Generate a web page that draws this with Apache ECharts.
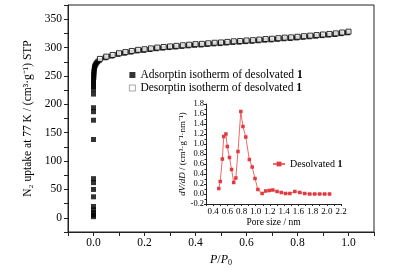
<!DOCTYPE html>
<html>
<head>
<meta charset="utf-8">
<script src="https://cdn.jsdelivr.net/npm/echarts@6/dist/echarts.min.js"></script>
<style>html,body{margin:0;padding:0;background:#fff;}#c{width:399px;height:272px;}</style>
</head>
<body>
<div id="c"></div>
<script>
// Adsorption isotherm (filled squares)
const adsX = [0.0,0.0,0.0,0.0,0.0,0.0,0.0,0.0,0.0,0.0,0.0,0.0,0.0,0.0,0.0,0.0,0.0,0.0,0.0,0.001,0.001,0.001,0.002,0.002,0.003,0.004,0.005,0.007,0.009,0.012,0.016,
  0.022,0.046,0.071,0.096,0.121,0.146,0.171,0.196,0.221,0.246,0.271,0.296,0.321,0.346,0.371,0.396,0.421,0.446,0.471,0.496,0.521,0.546,0.571,0.596,0.621,0.646,0.671,0.696,0.721,0.746,0.771,0.796,0.821,0.846,0.871,0.896,0.921,0.946,0.971,0.996];
const adsY = [2,5,9,14,20,37,50,62,69,138,172,187,194,218,226,231,235,239,243,247,250,253,256,259,262,265,267,269,271,273,275,
  277,282,285,288,290,292,294,295,296.5,298,299,300,301,302,303,304,304.5,305.5,306.5,307,308,309,309.5,310.5,311,312,313,313.5,314.5,315.5,316,317,318,319,320,321,322,323,324.5,326];
// Desorption isotherm (open squares)
const desX = [0.025,0.05,0.075,0.1,0.125,0.15,0.175,0.2,0.225,0.25,0.275,0.3,0.325,0.35,0.375,0.4,0.425,0.45,0.475,0.5,0.525,0.55,0.575,0.6,0.625,0.65,0.675,0.7,0.725,0.75,0.775,0.8,0.825,0.85,0.875,0.9,0.925,0.95,0.975,1.0];
const desY = [280,284,287,290,292,294,296,297,298.5,300,301,302,303,304,305,306,306.5,307.5,308.5,309,310,311,311.5,312.5,313,314,315,315.5,316.5,317.5,318,319,320,321,322,323,324,325,326.5,328];
// Pore size distribution (inset)
const poreX = [0.48,0.50,0.53,0.55,0.58,0.60,0.63,0.66,0.69,0.72,0.75,0.79,0.82,0.86,0.91,0.95,0.99,1.03,1.09,1.14,1.19,1.24,1.30,1.36,1.42,1.48,1.55,1.62,1.69,1.76,1.83,1.90,1.97,2.04];
const poreY = [0.11,0.25,0.70,1.15,1.20,0.95,0.73,0.49,0.23,0.32,0.85,1.65,1.35,1.14,0.69,0.54,0.31,0.09,0.01,0.06,0.07,0.08,0.05,0.03,0.01,0.01,0.05,0.03,0.01,0.0,0.0,0.0,0.0,0.0];
// Tick labels
const mainXLabels = [0.0,0.2,0.4,0.6,0.8,1.0];
const mainYLabels = [0,50,100,150,200,250,300,350];
const insetXLabels = [0.4,0.6,0.8,1.0,1.2,1.4,1.6,1.8,2.0,2.2];
const insetYLabels = [-0.2,0.0,0.2,0.4,0.6,0.8,1.0,1.2,1.4,1.6,1.8];

const FONT = 'Liberation Serif';
const zip = (a, b) => a.map((v, i) => [v, b[i]]);
const has = (list, v, tol) => list.some(t => Math.abs(t - v) < tol);

const chart = echarts.init(document.getElementById('c'), null, {renderer: 'canvas'});
chart.setOption({
  backgroundColor: '#fff',
  animation: false,
  textStyle: {fontFamily: FONT, color: '#000'},
  grid: [
    {left: 68, right: 25, top: 5, bottom: 40, show: true, borderColor: '#222', borderWidth: 1},
    {left: 206, right: 58, top: 104, bottom: 68, show: false}
  ],
  legend: [
    {
      left: 124, top: 64, orient: 'vertical', itemGap: 1, itemWidth: 6, itemHeight: 6,
      data: [
        {name: 'ads', icon: 'rect', itemStyle: {color: '#000', borderWidth: 0}},
        {name: 'des', icon: 'rect', itemStyle: {color: '#fff', borderColor: '#777', borderWidth: 0.8}}
      ],
      formatter: n => n === 'ads' ? '{a|Adsorptin isotherm of desolvated }{b|1}' : '{a|Desorptin isotherm of desolvated }{b|1}',
      textStyle: {fontFamily: FONT, fontSize: 11.5, color: '#000',
        rich: {a: {fontFamily: FONT, fontSize: 11.5, color: '#000'}, b: {fontFamily: FONT, fontSize: 11.5, fontWeight: 'bold', color: '#000'}}}
    },
    {
      left: 267, top: 154, itemWidth: 12, itemHeight: 6, itemGap: 3,
      data: [{name: 'pore'}],
      formatter: () => '{a|Desolvated }{b|1}',
      textStyle: {fontFamily: FONT, fontSize: 10, color: '#000',
        rich: {a: {fontFamily: FONT, fontSize: 10, color: '#000'}, b: {fontFamily: FONT, fontSize: 10, fontWeight: 'bold', color: '#000'}}}
    }
  ],
  xAxis: [
    {
      gridIndex: 0, type: 'value', min: -0.1, max: 1.1, interval: 0.1,
      axisLine: {onZero: false, lineStyle: {color: '#222', width: 1}},
      axisTick: {length: 4, lineStyle: {color: '#222'}},
      splitLine: {show: false},
      axisLabel: {fontFamily: FONT, fontSize: 11.5, color: '#000', margin: 5,
        formatter: v => has(mainXLabels, v, 1e-6) ? v.toFixed(1) : ''},
      name: '{i|P}/{i|P}{s|0}', nameLocation: 'middle', nameGap: 18,
      nameTextStyle: {fontFamily: FONT, fontSize: 12, color: '#000',
        rich: {i: {fontFamily: FONT, fontSize: 12, fontStyle: 'italic', color: '#000'},
               s: {fontFamily: FONT, fontSize: 8, color: '#000', padding: [6,0,0,0]}}}
    },
    {
      gridIndex: 1, type: 'value', min: 0.3, max: 2.2, interval: 0.1,
      axisLine: {onZero: false, lineStyle: {color: '#222', width: 1}},
      axisTick: {length: 2, lineStyle: {color: '#222'}},
      splitLine: {show: false},
      axisLabel: {fontFamily: FONT, fontSize: 9, color: '#000', margin: 3,
        formatter: v => has(insetXLabels, v, 1e-6) ? v.toFixed(1) : ''},
      name: 'Pore size / nm', nameLocation: 'middle', nameGap: 13,
      nameTextStyle: {fontFamily: FONT, fontSize: 9.5, color: '#000'}
    }
  ],
  yAxis: [
    {
      gridIndex: 0, type: 'value', min: -25, max: 375, interval: 25,
      axisLine: {show: true, onZero: false, lineStyle: {color: '#222', width: 1}},
      axisTick: {show: true, length: 4, lineStyle: {color: '#222'}},
      splitLine: {show: false},
      axisLabel: {fontFamily: FONT, fontSize: 11.5, color: '#000', margin: 6,
        formatter: v => has(mainYLabels, v, 1e-6) ? String(v) : ''},
      name: 'N\u2082 uptake at 77 K / (cm\u00b3\u00b7g\u207b\u00b9) STP', nameLocation: 'middle', nameGap: 30,
      nameTextStyle: {fontFamily: FONT, fontSize: 11.5, color: '#000'}
    },
    {
      gridIndex: 1, type: 'value', min: -0.2, max: 1.8, interval: 0.2,
      axisLine: {show: true, onZero: false, lineStyle: {color: '#222', width: 1}},
      axisTick: {show: true, length: 2, lineStyle: {color: '#222'}},
      minorTick: {show: true, splitNumber: 2, length: 1.5, lineStyle: {color: '#222'}},
      splitLine: {show: false},
      axisLabel: {fontFamily: FONT, fontSize: 8.5, color: '#000', margin: 2,
        formatter: v => has(insetYLabels, v, 1e-6) ? v.toFixed(1) : ''},
      name: '{i|dV/dD} / (cm\u00b3\u00b7g\u207b\u00b9\u00b7nm\u207b\u00b9)', nameLocation: 'middle', nameGap: 17,
      nameTextStyle: {fontFamily: FONT, fontSize: 9, color: '#000',
        rich: {i: {fontFamily: FONT, fontSize: 9, fontStyle: 'italic', color: '#000'}}}
    }
  ],
  series: [
    {
      name: 'ads', type: 'scatter', xAxisIndex: 0, yAxisIndex: 0, z: 2,
      symbol: 'rect', symbolSize: 5,
      itemStyle: {color: '#000'},
      data: zip(adsX, adsY)
    },
    {
      name: 'des', type: 'scatter', xAxisIndex: 0, yAxisIndex: 0, z: 3,
      symbol: 'rect', symbolSize: 5,
      itemStyle: {color: '#fff', borderColor: '#000', borderWidth: 1},
      data: zip(desX, desY)
    },
    {
      name: 'pore', type: 'line', xAxisIndex: 1, yAxisIndex: 1, z: 4,
      symbol: 'rect', symbolSize: 3.5, showSymbol: true,
      lineStyle: {color: '#f06a6a', width: 1},
      itemStyle: {color: '#e23a3f'},
      data: zip(poreX, poreY)
    }
  ]
});
</script>
</body>
</html>
